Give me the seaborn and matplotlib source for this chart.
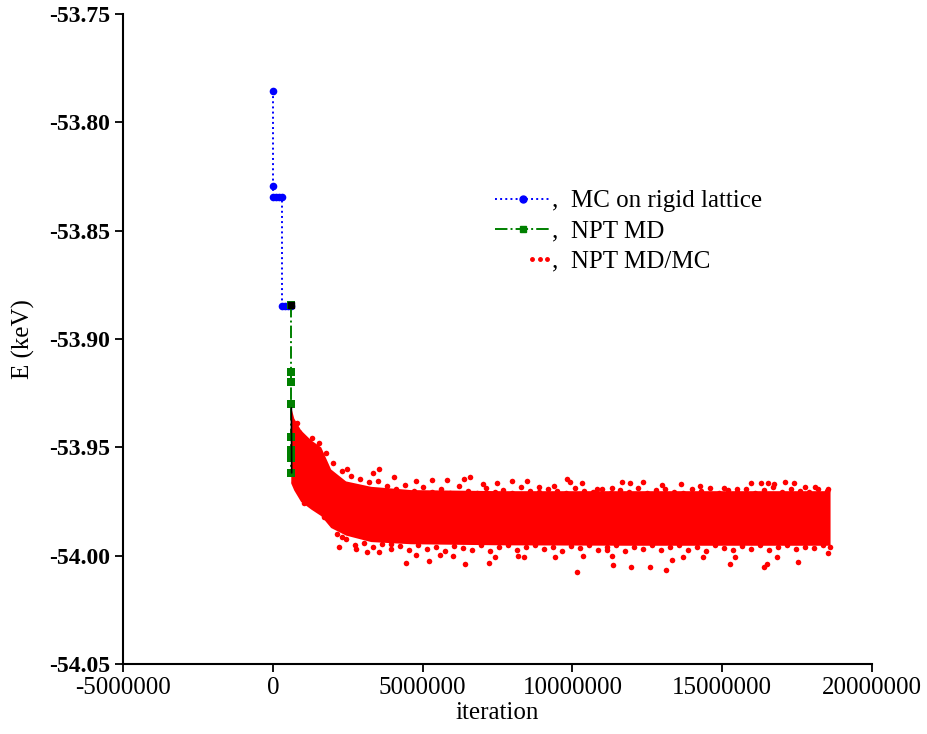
import numpy as np
import pandas as pd
import matplotlib
matplotlib.use("Agg")
import matplotlib.pyplot as plt
import seaborn as sns
from matplotlib.lines import Line2D
from matplotlib.legend_handler import HandlerLine2D

# --- datos (iteracion en millones, energia en keV) ---
mc_iter = [0.0, 0.0, 0.0, 0.1, 0.2, 0.32, 0.32, 0.4, 0.5, 0.6]
mc_energy = [-53.7855, -53.8294, -53.8345, -53.8345, -53.8345, -53.8345,
             -53.8848, -53.8848, -53.8848, -53.8848]

md_iter = [0.6, 0.6, 0.6, 0.6, 0.6, 0.6, 0.6, 0.6]
md_energy = [-53.8843, -53.915, -53.920, -53.930, -53.945, -53.951, -53.955, -53.962]

black_iter = [0.62, 0.63]
black_energy = [-53.9318, -53.9618]
black_sq_iter = 0.6
black_sq_energy = -53.8843

# envolvente del nucleo denso de la nube roja
band_iter = [0.60, 0.70, 0.93, 1.27, 1.60, 1.93, 2.43, 3.27, 4.60, 7.60, 12.0, 18.6]
band_top = [-53.9314, -53.9365, -53.9420, -53.9466, -53.9498, -53.9600,
            -53.9655, -53.9680, -53.9695, -53.9700, -53.9700, -53.9700]
band_bottom = [-53.9665, -53.9697, -53.9750, -53.9785, -53.9815, -53.9870,
               -53.9905, -53.9935, -53.9945, -53.9950, -53.9952, -53.9952]

# puntos sueltos en los bordes de la nube
top_iter = [0.70, 0.80, 0.87, 1.30, 1.53, 1.77, 2.47, 3.33, 3.53, 4.03, 4.77, 5.33,
            5.83, 6.37, 6.57, 7.00, 7.47, 8.00, 8.50, 8.87, 9.37, 9.83, 9.93, 10.33,
            10.83, 11.33, 11.67, 11.93, 12.37, 13.00, 13.63, 14.27, 15.07, 15.50,
            15.97, 16.30, 16.53, 16.73, 17.10, 17.40, 17.77, 18.10, 18.53]
top_energy = [-53.9660, -53.9388, -53.9429, -53.9457, -53.9480, -53.9526, -53.9600,
              -53.9618, -53.9600, -53.9637, -53.9655, -53.9651, -53.9651, -53.9646,
              -53.9637, -53.9669, -53.9665, -53.9655, -53.9655, -53.9683, -53.9678,
              -53.9646, -53.9660, -53.9665, -53.9692, -53.9688, -53.9660, -53.9665,
              -53.9660, -53.9674, -53.9669, -53.9678, -53.9688, -53.9692, -53.9665,
              -53.9665, -53.9665, -53.9669, -53.9660, -53.9665, -53.9683, -53.9683,
              -53.9692]
bot_iter = [1.03, 1.37, 1.70, 2.30, 2.20, 2.77, 3.13, 3.53, 3.93, 4.43, 4.77, 5.20,
            5.57, 6.03, 6.43, 7.20, 7.43, 8.20, 8.37, 9.43, 10.17, 10.37, 11.17,
            11.37, 11.33, 11.97, 12.60, 13.13, 13.33, 13.70, 14.37, 15.27, 15.43,
            16.40, 16.50, 16.83, 17.53, 18.53]
bot_energy = [-53.9757, -53.9775, -53.9822, -53.9914, -53.9960, -53.9969, -53.9983,
              -53.9983, -53.9946, -54.0034, -53.9997, -54.0025, -53.9997, -54.0002,
              -54.0038, -54.0034, -54.0006, -54.0002, -54.0006, -54.0006, -54.0075,
              -54.0002, -53.9974, -54.0043, -54.0002, -54.0052, -54.0052, -54.0066,
              -54.0020, -54.0006, -54.0006, -54.0038, -54.0006, -54.0052, -54.0038,
              -54.0006, -54.0029, -53.9988]

# franja de puntos pegada al nucleo
fringe_top_iter = [2.0, 2.3, 2.6, 2.9, 3.2, 3.5, 3.8, 4.1, 4.4, 4.7, 5.0, 5.3, 5.6,
                   5.9, 6.2, 6.5, 6.8, 7.1, 7.4, 7.7, 8.0, 8.3, 8.6, 8.9, 9.2, 9.5,
                   9.8, 10.1, 10.4, 10.7, 11.0, 11.3, 11.6, 11.9, 12.2, 12.5, 12.8,
                   13.1, 13.4, 13.7, 14.0, 14.3, 14.6, 14.9, 15.2, 15.5, 15.8, 16.1,
                   16.4, 16.7, 17.0, 17.3, 17.6, 17.9, 18.2, 18.5]
fringe_top_energy = [-53.9570, -53.9610, -53.9630, -53.9645, -53.9660, -53.9655,
                     -53.9680, -53.9690, -53.9675, -53.9700, -53.9685, -53.9705,
                     -53.9690, -53.9710, -53.9680, -53.9700, -53.9712, -53.9688,
                     -53.9705, -53.9695, -53.9712, -53.9685, -53.9700, -53.9708,
                     -53.9690, -53.9702, -53.9712, -53.9686, -53.9700, -53.9708,
                     -53.9690, -53.9710, -53.9696, -53.9705, -53.9688, -53.9712,
                     -53.9698, -53.9690, -53.9706, -53.9712, -53.9692, -53.9700,
                     -53.9686, -53.9710, -53.9698, -53.9705, -53.9690, -53.9712,
                     -53.9695, -53.9683, -53.9705, -53.9690, -53.9700, -53.9708,
                     -53.9692, -53.9700]
fringe_bot_iter = [2.15, 2.45, 2.75, 3.05, 3.35, 3.65, 3.95, 4.25, 4.55, 4.85, 5.15,
                   5.45, 5.75, 6.05, 6.35, 6.65, 6.95, 7.25, 7.55, 7.85, 8.15, 8.45,
                   8.75, 9.05, 9.35, 9.65, 9.95, 10.25, 10.55, 10.85, 11.15, 11.45,
                   11.75, 12.05, 12.35, 12.65, 12.95, 13.25, 13.55, 13.85, 14.15,
                   14.45, 14.75, 15.05, 15.35, 15.65, 15.95, 16.25, 16.55, 16.85,
                   17.15, 17.45, 17.75, 18.05, 18.35, 18.6]
fringe_bot_energy = [-53.9900, -53.9925, -53.9950, -53.9940, -53.9962, -53.9948,
                     -53.9970, -53.9955, -53.9975, -53.9950, -53.9968, -53.9958,
                     -53.9980, -53.9955, -53.9965, -53.9972, -53.9950, -53.9978,
                     -53.9960, -53.9952, -53.9975, -53.9962, -53.9950, -53.9970,
                     -53.9958, -53.9980, -53.9955, -53.9966, -53.9950, -53.9975,
                     -53.9962, -53.9952, -53.9978, -53.9958, -53.9968, -53.9950,
                     -53.9976, -53.9960, -53.9952, -53.9972, -53.9958, -53.9980,
                     -53.9950, -53.9965, -53.9972, -53.9955, -53.9968, -53.9952,
                     -53.9975, -53.9960, -53.9950, -53.9970, -53.9958, -53.9965,
                     -53.9952, -53.9960]

M = 1e6


class HandlerDots(HandlerLine2D):
    # tres puntos juntos a la derecha, como en la leyenda original
    def get_xdata(self, legend, xdescent, ydescent, width, height, fontsize):
        xs = np.linspace(width * 0.68, width * 0.95, 3) - xdescent
        return xs, xs


sns.set_theme(style="ticks")
plt.rcParams['font.family'] = ['Liberation Serif', 'DejaVu Serif']
plt.rcParams['text.color'] = 'black'
plt.rcParams['axes.labelcolor'] = 'black'

fig = plt.figure(figsize=(9.27, 7.34), dpi=100)
ax = fig.add_axes([123 / 927, 1 - 664 / 734, 749 / 927, 650 / 734])

# nube roja: nucleo + franja + puntos sueltos
ax.fill_between(np.array(band_iter) * M, band_bottom, band_top, color='red', lw=0, zorder=2)
dots = pd.DataFrame({
    'iter': np.array(top_iter + bot_iter + fringe_top_iter + fringe_bot_iter) * M,
    'E': top_energy + bot_energy + fringe_top_energy + fringe_bot_energy})
sns.scatterplot(data=dots, x='iter', y='E', color='red', s=16, linewidth=0, ax=ax, zorder=3)

# MC sobre red rigida
mc = pd.DataFrame({'iter': np.array(mc_iter) * M, 'E': mc_energy})
sns.lineplot(data=mc, x='iter', y='E', estimator=None, sort=False, color='blue',
             linestyle=':', lw=1.4, marker='o', markersize=5.5, markeredgewidth=0, ax=ax, zorder=4)

# NPT MD
md = pd.DataFrame({'iter': np.array(md_iter) * M, 'E': md_energy})
sns.lineplot(data=md, x='iter', y='E', estimator=None, sort=False, color='green',
             linestyle='-.', lw=1.4, marker='s', markersize=5.5, markeredgewidth=0, ax=ax, zorder=4)

ax.plot(np.array(black_iter) * M, black_energy, color='black', lw=1.2, zorder=5)
ax.plot(black_sq_iter * M, black_sq_energy, 's', color='black', markersize=5, zorder=5)

ax.set_xlim(-5e6, 2e7)
ax.set_ylim(-54.05, -53.75)
ax.set_xticks([-5000000, 0, 5000000, 10000000, 15000000, 20000000])
ax.set_xticklabels(['-5000000', '0', '5000000', '10000000', '15000000', '20000000'])
ax.set_yticks(np.arange(-54.05, -53.749, 0.05))
ax.set_yticklabels([f'{v:.2f}' for v in np.arange(-54.05, -53.749, 0.05)], fontweight='bold')
ax.tick_params(axis='x', labelsize=18, length=6, width=1.3, direction='out', colors='black')
ax.tick_params(axis='y', labelsize=17, length=6, width=1.3, direction='out', colors='black')
for side in ['top', 'right']:
    ax.spines[side].set_visible(False)
for side in ['left', 'bottom']:
    ax.spines[side].set_linewidth(1.5)
    ax.spines[side].set_color('black')

ax.set_xlabel('iteration', fontsize=18, labelpad=2)
ax.set_ylabel('E (keV)', fontsize=18, labelpad=10)

h_mc = Line2D([], [], color='blue', linestyle=':', lw=1.4, marker='o', markersize=5)
h_md = Line2D([], [], color='green', linestyle='-.', lw=1.4, marker='s', markersize=4)
h_red = Line2D([], [], color='red', linestyle='none', marker='o', markersize=2.5)
leg = fig.legend([h_mc, h_md, h_red],
                 [',  MC on rigid lattice', ',  NPT MD', ',  NPT MD/MC'],
                 loc='upper left', bbox_to_anchor=(495 / 927, 1 - 190 / 734),
                 frameon=False, fontsize=18, handlelength=2.2, handletextpad=0.1,
                 labelspacing=0.3, borderpad=0, borderaxespad=0,
                 handler_map={h_red: HandlerDots(numpoints=3)})

fig.savefig('out.png', dpi=100)
